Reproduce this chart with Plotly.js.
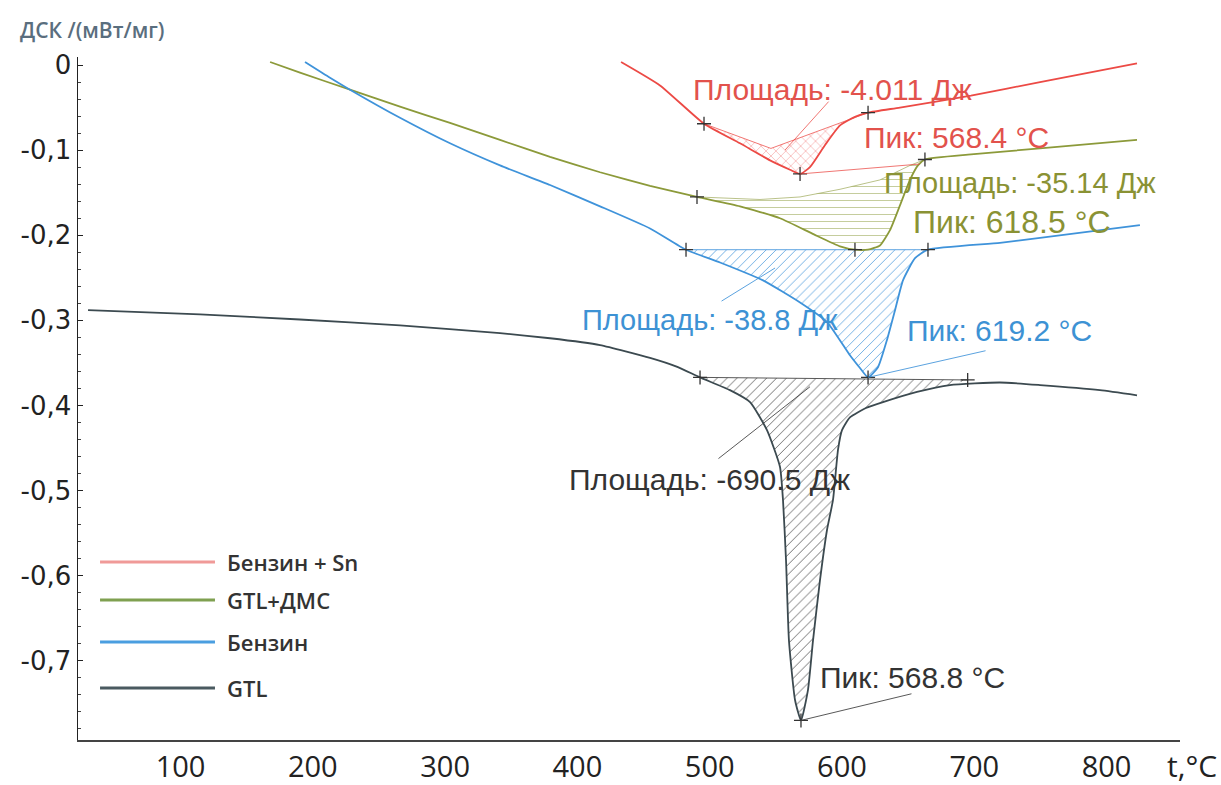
<!DOCTYPE html>
<html>
<head>
<meta charset="utf-8">
<script src="https://cdn.plot.ly/plotly-3.0.1.min.js"></script>
<style>html,body{margin:0;padding:0;background:#fff;}#chart{width:1221px;height:785px;}</style>
</head>
<body>
<div id="chart"></div>
<script>
// ---------- data (t, °C  /  ДСК, мВт/мг) ----------
const seriesNames = ['Бензин + Sn', 'GTL+ДМС', 'Бензин', 'GTL'];

const tSn   = [433.0, 462.4, 495.7, 522.9, 545.6, 560.7, 568.3, 575.8, 587.2, 598.5, 609.8, 619.7, 643.8, 697.5, 749.7, 823.0];
const dscSn = [0.0035, -0.024, -0.069, -0.092, -0.112, -0.123, -0.128, -0.120, -0.094, -0.071, -0.061, -0.056, -0.050, -0.036, -0.020, 0.002];
const baseTSn = [495.7, 546.3, 619.7];
const baseVSn = [-0.069, -0.098, -0.056];

const tDmc   = [167.7, 190.3, 228.1, 265.9, 303.7, 341.5, 379.3, 417.1, 454.9, 490.4, 522.9, 553.1, 578.8, 598.5, 609.8, 619.7, 628.7, 636.3, 643.8, 651.4, 657.4, 662.7, 697.5, 749.7, 823.0];
const dscDmc = [0.0035, -0.009, -0.029, -0.049, -0.068, -0.088, -0.108, -0.126, -0.142, -0.155, -0.166, -0.180, -0.199, -0.213, -0.217, -0.217, -0.212, -0.194, -0.165, -0.135, -0.118, -0.111, -0.105, -0.098, -0.088];
const baseTDmc = [490.4, 538.0, 568.3, 598.5, 628.7, 651.4, 662.7];
const baseVDmc = [-0.155, -0.158, -0.155, -0.146, -0.135, -0.118, -0.111];

const tBen   = [194.1, 213.0, 228.1, 265.9, 303.7, 341.5, 379.3, 417.1, 454.9, 482.1, 507.8, 540.3, 568.3, 588.7, 606.0, 613.6, 619.7, 627.2, 634.0, 640.1, 646.1, 655.2, 665.0, 719.4, 749.7, 825.2];
const dscBen = [0.0035, -0.015, -0.029, -0.062, -0.092, -0.118, -0.141, -0.166, -0.192, -0.217, -0.232, -0.253, -0.279, -0.302, -0.341, -0.356, -0.367, -0.355, -0.323, -0.288, -0.253, -0.227, -0.217, -0.209, -0.203, -0.188];
const baseTBen = [482.1, 665.0];
const baseVBen = [-0.217, -0.217];

const tGtl   = [30.1, 114.7, 190.3, 265.9, 341.5, 379.3, 417.1, 454.9, 474.5, 492.7, 515.3, 530.5, 543.3, 553.1, 555.4, 557.7, 559.9, 564.5, 569.0, 574.3, 578.1, 583.4, 588.7, 593.2, 597.0, 600.0, 606.0, 618.1, 631.0, 656.7, 681.6, 719.4, 749.7, 795.0, 823.0];
const dscGtl = [-0.288, -0.293, -0.299, -0.306, -0.315, -0.321, -0.329, -0.344, -0.354, -0.367, -0.382, -0.396, -0.429, -0.472, -0.511, -0.582, -0.676, -0.746, -0.770, -0.734, -0.676, -0.605, -0.546, -0.511, -0.452, -0.429, -0.414, -0.403, -0.396, -0.384, -0.376, -0.373, -0.376, -0.382, -0.388];
const baseTGtl = [492.7, 695.0];
const baseVGtl = [-0.367, -0.370];

const areaLabels = ['Площадь: -4.011 Дж', 'Площадь: -35.14 Дж', 'Площадь: -38.8 Дж', 'Площадь: -690.5 Дж'];
const peakLabels = ['Пик: 568.4 °C', 'Пик: 618.5 °C', 'Пик: 619.2 °C', 'Пик: 568.8 °C'];

const xTickVals = [100, 200, 300, 400, 500, 600, 700, 800];
const yTickVals = [0, -0.1, -0.2, -0.3, -0.4, -0.5, -0.6, -0.7];
const yTickText = ['0', '-0,1', '-0,2', '-0,3', '-0,4', '-0,5', '-0,6', '-0,7'];

// ---------- styling ----------
const colors   = ['#ec4a45', '#8c9a3a', '#3f93da', '#3c4a50'];
const txtCol   = ['#e2524c', '#8a9234', '#3d92d4', '#333333'];
const hatchCol = ['rgba(236,74,69,0.75)', 'rgba(140,154,58,0.6)', 'rgba(63,147,218,0.85)', 'rgba(60,60,60,0.85)'];
const hatchShape = ['x', '-', '/', '/'];

const curves = [
  {t: tSn, v: dscSn, bt: baseTSn, bv: baseVSn},
  {t: tDmc, v: dscDmc, bt: baseTDmc, bv: baseVDmc},
  {t: tBen, v: dscBen, bt: baseTBen, bv: baseVBen},
  {t: tGtl, v: dscGtl, bt: baseTGtl, bv: baseVGtl}
];

function areaPolygon(c) {
  const t0 = c.bt[0], t1 = c.bt[c.bt.length - 1];
  const xs = c.bt.slice(), ys = c.bv.slice();
  for (let i = c.t.length - 1; i >= 0; i--) {
    if (c.t[i] > t0 && c.t[i] < t1) { xs.push(c.t[i]); ys.push(c.v[i]); }
  }
  xs.push(t0); ys.push(c.bv[0]);
  return {xs, ys};
}

const traces = [];
curves.forEach((c, k) => {
  const p = areaPolygon(c);
  traces.push({
    x: p.xs, y: p.ys, type: 'scatter', mode: 'lines', fill: 'toself',
    fillcolor: 'rgba(0,0,0,0)', line: {width: 0, color: 'rgba(0,0,0,0)'},
    fillpattern: {shape: hatchShape[k], fgcolor: hatchCol[k], bgcolor: 'rgba(0,0,0,0)', size: 7, solidity: 0.12},
    showlegend: false, hoverinfo: 'skip'
  });
  traces.push({
    x: c.bt, y: c.bv, type: 'scatter', mode: 'lines',
    line: {width: 1, color: hatchCol[k]}, showlegend: false, hoverinfo: 'skip'
  });
});
curves.forEach((c, k) => {
  traces.push({
    x: c.t, y: c.v, type: 'scatter', mode: 'lines', name: seriesNames[k],
    line: {width: 1.8, color: colors[k], shape: 'spline', smoothing: 0.5},
    showlegend: false
  });
  let im = 0;
  c.v.forEach((v, i) => { if (v < c.v[im]) im = i; });
  traces.push({
    x: [c.bt[0], c.t[im], c.bt[c.bt.length - 1]],
    y: [c.bv[0], c.v[im], c.bv[c.bv.length - 1]],
    type: 'scatter', mode: 'markers',
    marker: {symbol: 'cross-thin', size: 10, line: {width: 1.3, color: '#333'}},
    showlegend: false, hoverinfo: 'skip'
  });
});

const F = 'Liberation Sans, Arial, sans-serif';
const ann = [];
// text labels
const areaPos = [[485.9, -0.0282], [630.2, -0.1387], [402.0, -0.2996], [392.1, -0.4865]];
const peakPos = [[615.1, -0.0846], [652.2, -0.1845], [647.6, -0.3114], [581.9, -0.7192]];
const areaSize = [30, 29, 29, 30];
const peakSize = [30, 32, 30, 30];
for (let k = 0; k < 4; k++) {
  ann.push({x: areaPos[k][0], y: areaPos[k][1], xref: 'x', yref: 'y', text: areaLabels[k], showarrow: false,
    xanchor: 'left', yanchor: 'middle', font: {family: F, size: areaSize[k], color: txtCol[k]}});
  ann.push({x: peakPos[k][0], y: peakPos[k][1], xref: 'x', yref: 'y', text: peakLabels[k], showarrow: false,
    xanchor: 'left', yanchor: 'middle', font: {family: F, size: peakSize[k], color: txtCol[k]}});
}
// leader lines
const leaders = [
  [568.3, -0.128, 121, -10, 0], [556.9, -0.100, 45, -50, 0],
  [619.7, -0.367, 119, -27, 2], [549.4, -0.2385, -55, 34, 2],
  [569.0, -0.770, 112, -27, 3], [575.8, -0.378, -93, 73, 3]
];
leaders.forEach(l => ann.push({x: l[0], y: l[1], xref: 'x', yref: 'y', ax: l[2], ay: l[3], text: '',
  showarrow: true, arrowhead: 0, arrowwidth: 1, arrowcolor: hatchCol[l[4]]}));

// axis titles
ann.push({x: -0.0545, y: 1.04, xref: 'paper', yref: 'paper', xanchor: 'left', yanchor: 'middle', showarrow: false,
  text: 'ДСК /(мВт/мг)', font: {family: 'Open Sans, sans-serif', size: 21, color: '#5a6e7e', weight: 600}});
ann.push({x: 0.986, y: -0.038, xref: 'paper', yref: 'paper', xanchor: 'left', yanchor: 'middle', showarrow: false,
  text: 't,°C', font: {family: 'Open Sans, sans-serif', size: 30, color: '#222'}});

// legend (manual)
const legY = [0.2606, 0.205, 0.1435, 0.0761];
const legCol = ['#f09a98', '#7fa050', '#4a9ee0', '#4a5a60'];
const shapes = [];
for (let k = 0; k < 4; k++) {
  shapes.push({type: 'line', xref: 'paper', yref: 'paper', x0: 0.02, x1: 0.1243, y0: legY[k], y1: legY[k],
    line: {color: legCol[k], width: 3}});
  ann.push({x: 0.1334, y: legY[k], xref: 'paper', yref: 'paper', xanchor: 'left', yanchor: 'middle', showarrow: false,
    text: seriesNames[k], font: {family: 'Open Sans, sans-serif', size: 22, color: '#333', weight: 600}});
}

const layout = {
  width: 1221, height: 785,
  margin: {l: 78, r: 41, t: 57, b: 45},
  paper_bgcolor: '#fff', plot_bgcolor: '#fff',
  showlegend: false,
  xaxis: {
    range: [22.5, 855.5], showgrid: false, zeroline: false,
    showline: true, linecolor: '#444', linewidth: 2,
    tickvals: xTickVals, ticks: '', tickfont: {family: 'Open Sans, sans-serif', size: 29, color: '#222'}
  },
  yaxis: {
    range: [-0.793, 0.0094], showgrid: false, zeroline: false,
    showline: true, linecolor: '#222', linewidth: 1.5,
    tickvals: yTickVals, ticktext: yTickText, ticks: 'inside', ticklen: 5, tickcolor: '#222',
    minor: {dtick: 0.02, ticks: 'inside', ticklen: 3, tickcolor: '#444'},
    tickfont: {family: 'DejaVu Sans, sans-serif', size: 26, color: '#222'}
  },
  annotations: ann,
  shapes: shapes
};

Plotly.newPlot('chart', traces, layout, {staticPlot: true, displayModeBar: false});
</script>
</body>
</html>
